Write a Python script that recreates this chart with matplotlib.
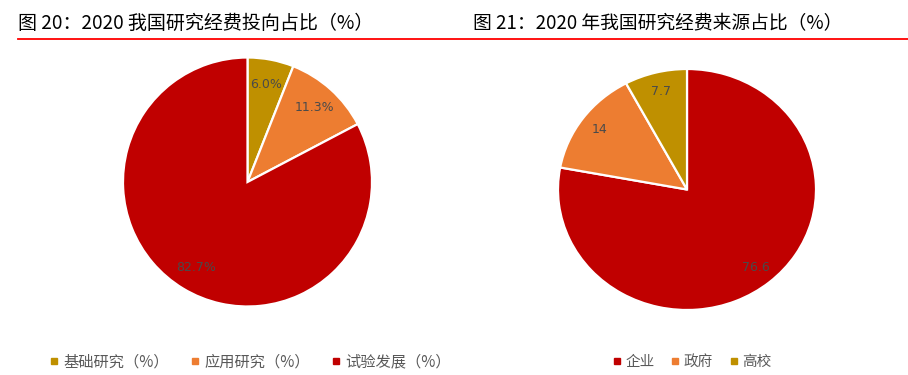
import numpy as np
import matplotlib
matplotlib.use("Agg")
import matplotlib.pyplot as plt
from matplotlib.lines import Line2D

plt.rcParams['font.family'] = ['Noto Sans CJK SC', 'DejaVu Sans']

# data
left_labels = ['基础研究（%）', '应用研究（%）', '试验发展（%）']
left_values = [6.0, 11.3, 82.7]
right_labels = ['企业', '政府', '高校']
right_values = [76.6, 14, 7.7]
left_colors = ['#BF9000', '#ED7D31', '#C00000']
right_colors = ['#C00000', '#ED7D31', '#BF9000']

W, H = 908, 375
fig = plt.figure(figsize=(W / 100, H / 100), dpi=100)


def px_axes(x0, y0, w, h):
    # pixel box (top-left origin) -> figure axes
    return fig.add_axes([x0 / W, 1 - (y0 + h) / H, w / W, h / H])


def draw_pie(ax, values, colors, fmt, dist):
    wedges, _ = ax.pie(values, colors=colors, startangle=90, counterclock=False,
                       wedgeprops=dict(edgecolor='white', linewidth=1.6))
    for w, v in zip(wedges, values):
        th = np.deg2rad((w.theta1 + w.theta2) / 2)
        ax.text(dist * np.cos(th), dist * np.sin(th), fmt(v), ha='center', va='center',
                fontsize=9, color='#4a4a4a', family='DejaVu Sans')
    ax.set_aspect('auto')
    ax.set_xlim(-1, 1)
    ax.set_ylim(-1, 1)
    ax.axis('off')


ax1 = px_axes(123, 57.5, 249, 249)
draw_pie(ax1, left_values, left_colors, lambda v: f'{v:.1f}%', 0.8)

ax2 = px_axes(558, 69, 258, 241)
draw_pie(ax2, right_values, right_colors, lambda v: f'{v:g}', 0.84)

# titles
fig.text(18 / W, 1 - 23.5 / H, '图 20：2020 我国研究经费投向占比（%）', fontsize=13.7,
         va='center', ha='left', color='black')
fig.text(473 / W, 1 - 23.5 / H, '图 21：2020 年我国研究经费来源占比（%）', fontsize=13.5,
         va='center', ha='left', color='black')
fig.add_artist(Line2D([18 / W, 1], [1 - 38.5 / H] * 2, color='#FF0000', lw=1.3,
                      transform=fig.transFigure))


def legend(labels, colors, cx, fs, spacing):
    handles = [Line2D([], [], marker='s', ls='none', color=c, markersize=5) for c in colors]
    fig.legend(handles, labels, loc='center', bbox_to_anchor=(cx / W, 1 - 362 / H),
               ncol=len(labels), frameon=False, fontsize=fs, handlelength=0.6,
               handletextpad=0.3, columnspacing=spacing, labelcolor='#595959')


legend(left_labels, left_colors, 250, 11, 1.4)
legend(right_labels, right_colors, 692, 10.5, 1.1)

fig.savefig('out.png', dpi=100)
